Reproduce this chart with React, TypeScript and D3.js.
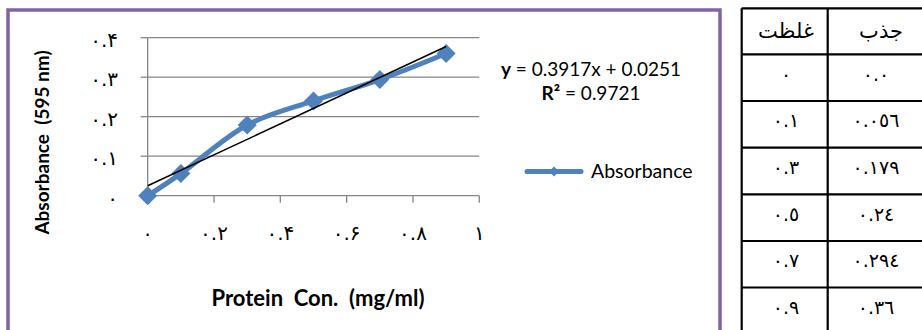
import React from "react";
import * as d3 from "d3";

const concentrations = [0, 0.1, 0.3, 0.5, 0.7, 0.9];
const absorbance = [0, 0.056, 0.179, 0.24, 0.294, 0.36];
const xTicks = [0, 0.2, 0.4, 0.6, 0.8, 1];
const xTickLabels = ["۰", "۰.۲", "۰.۴", "۰.۶", "۰.۸", "۱"];
const yTicks = [0, 0.1, 0.2, 0.3, 0.4];
const yTickLabels = ["۰", "۰.۱", "۰.۲", "۰.۳", "۰.۴"];
const trendSlope = 0.3917;
const trendIntercept = 0.0251;
const tableHeaders = ["غلظت", "جذب"];
const tableConc = ["٠", "٠.١", "٠.٣", "٠.٥", "٠.٧", "٠.٩"];
const tableAbs = ["٠.٠", "٠.٠٥٦", "٠.١٧٩", "٠.٢٤", "٠.٢٩٤", "٠.٣٦"];

const BLUE = "#4F81BD";
const GRID = "#868686";
const LATIN = "Lato, 'Open Sans', sans-serif";
const ARAB = "'DejaVu Sans', sans-serif";

export default function App() {
  const x = d3.scaleLinear().domain([0, 1]).range([147.7, 479.3]);
  const y = d3.scaleLinear().domain([0, 0.4]).range([195.7, 37.7]);
  const pts: [number, number][] = concentrations.map((c, i) => [c, absorbance[i]]);
  const line = d3
    .line<[number, number]>()
    .x((d) => x(d[0]))
    .y((d) => y(d[1]))
    .curve(d3.curveCatmullRom.alpha(0.5));
  const tx0 = 0;
  const tx1 = 0.9;
  const diamond = (cx: number, cy: number, r: number) =>
    `M${cx},${cy - r}L${cx + r},${cy}L${cx},${cy + r}L${cx - r},${cy}Z`;

  const rowYs = [8.3, 54.3, 101, 147.7, 194.3, 241, 287.5, 334];
  const colXs = [741.7, 827.7, 935];

  return (
    <svg
      width={922}
      height={330}
      style={{ position: "absolute", left: 0, top: 0, background: "#fff" }}
    >
      {/* chart frame */}
      <rect x={8} y={10} width={712} height={330} fill="#fff" stroke="#8064A2" strokeWidth={3.5} />

      {/* gridlines */}
      {yTicks.map((t, i) => (
        <g key={"g" + i}>
          <line x1={x(0)} x2={x(1)} y1={y(t)} y2={y(t)} stroke={GRID} strokeWidth={1.3} />
          <line x1={x(0) - 7} x2={x(0)} y1={y(t)} y2={y(t)} stroke={GRID} strokeWidth={1.3} />
          <text
            x={118}
            y={y(t) + 9}
            textAnchor="end"
            fontFamily={ARAB}
            fontSize={20}
            fill="#000"
          >
            {yTickLabels[i]}
          </text>
        </g>
      ))}
      <line x1={x(0)} x2={x(0)} y1={y(0.4)} y2={y(0)} stroke={GRID} strokeWidth={1.3} />
      {xTicks.map((t, i) => (
        <g key={"x" + i}>
          <line x1={x(t)} x2={x(t)} y1={y(0)} y2={y(0) + 7} stroke={GRID} strokeWidth={1.3} />
          <text
            x={x(t)}
            y={240}
            textAnchor="middle"
            fontFamily={ARAB}
            fontSize={20}
            fill="#000"
          >
            {xTickLabels[i]}
          </text>
        </g>
      ))}

      {/* data line */}
      <path d={line(pts) || ""} fill="none" stroke={BLUE} strokeWidth={5} strokeLinejoin="round" />
      {pts.map((p, i) => (
        <path key={"m" + i} d={diamond(x(p[0]), y(p[1]), 9.5)} fill={BLUE} />
      ))}

      {/* trendline */}
      <line
        x1={x(tx0)}
        y1={y(trendSlope * tx0 + trendIntercept)}
        x2={x(tx1)}
        y2={y(trendSlope * tx1 + trendIntercept)}
        stroke="#000"
        strokeWidth={1.5}
      />

      {/* equation */}
      <text x={591} y={76} textAnchor="middle" fontFamily={LATIN} fontSize={19} fill="#000">
        <tspan fontWeight="bold">y</tspan>
        {" = " + trendSlope + "x + " + trendIntercept}
      </text>
      <text x={591} y={100} textAnchor="middle" fontFamily={LATIN} fontSize={19} fill="#000">
        <tspan fontWeight="bold">R²</tspan>
        {" = 0.9721"}
      </text>

      {/* legend */}
      <line x1={527} x2={581} y1={171.5} y2={171.5} stroke={BLUE} strokeWidth={5} strokeLinecap="round" />
      <path d={diamond(554, 171.5, 5)} fill={BLUE} />
      <text x={591} y={178} fontFamily={LATIN} fontSize={19.5} fill="#000">
        Absorbance
      </text>

      {/* axis titles */}
      <text
        transform="translate(49,142.5) rotate(-90)"
        textAnchor="middle"
        fontFamily={LATIN}
        fontWeight="bold"
        fontSize={19}
        fill="#000"
        style={{ whiteSpace: "pre" }}
      >
        {"Absorbance  (595 nm)"}
      </text>
      <text
        x={318}
        y={306}
        textAnchor="middle"
        fontFamily={LATIN}
        fontWeight="bold"
        fontSize={22}
        fill="#000"
        style={{ whiteSpace: "pre" }}
      >
        {"Protein  Con.  (mg/ml)"}
      </text>

      {/* table */}
      {rowYs.map((ry, i) => (
        <line key={"r" + i} x1={colXs[0]} x2={colXs[2]} y1={ry} y2={ry} stroke="#000" strokeWidth={2.2} />
      ))}
      {colXs.map((cx, i) => (
        <line key={"c" + i} x1={cx} x2={cx} y1={rowYs[0]} y2={rowYs[rowYs.length - 1]} stroke="#000" strokeWidth={2.2} />
      ))}
      {tableHeaders.map((h, i) => (
        <text
          key={"h" + i}
          x={i === 0 ? 786 : 881}
          y={38}
          textAnchor="middle"
          fontFamily={ARAB}
          fontSize={21}
          fill="#000"
        >
          {h}
        </text>
      ))}
      {tableConc.map((v, i) => (
        <text
          key={"tc" + i}
          x={786}
          y={(rowYs[i + 1] + rowYs[i + 2]) / 2 + 3}
          textAnchor="middle"
          fontFamily={ARAB}
          fontSize={19}
          fill="#000"
        >
          {v}
        </text>
      ))}
      {tableAbs.map((v, i) => (
        <text
          key={"ta" + i}
          x={876}
          y={(rowYs[i + 1] + rowYs[i + 2]) / 2 + 3}
          textAnchor="middle"
          fontFamily={ARAB}
          fontSize={19}
          fill="#000"
        >
          {v}
        </text>
      ))}
    </svg>
  );
}
